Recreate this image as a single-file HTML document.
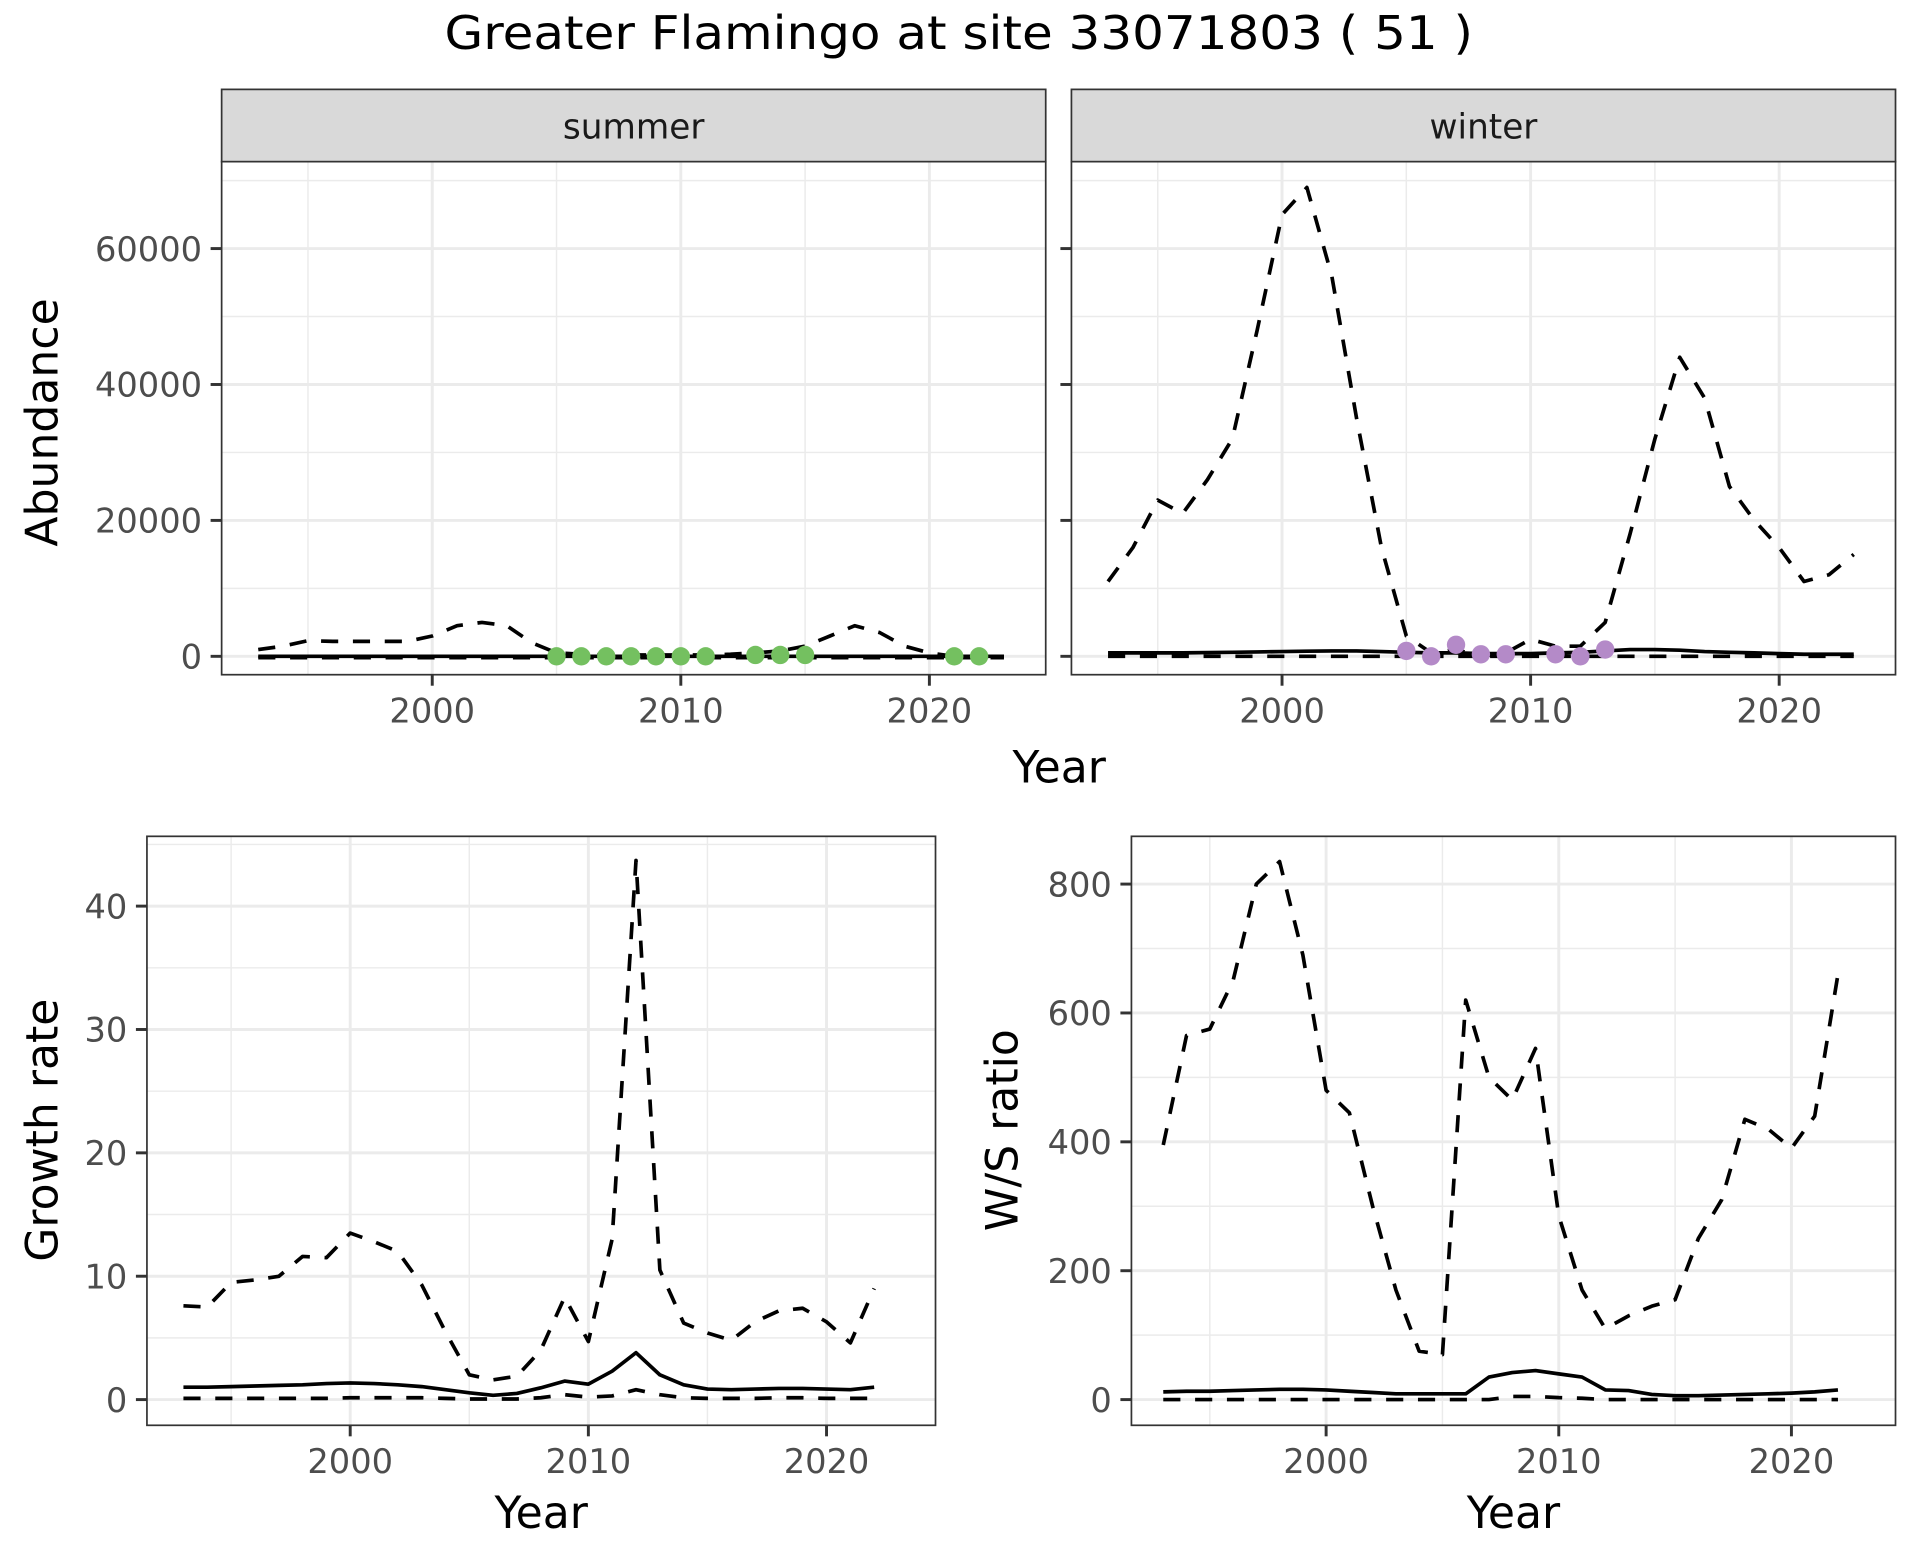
<!DOCTYPE html>
<html><head><meta charset="utf-8"><style>
html,body{margin:0;padding:0;background:#fff;}
svg{display:block;font-family:"DejaVu Sans","Liberation Sans",sans-serif;}
</style></head><body>
<svg id="chart" width="1920" height="1560" viewBox="0 0 1568 1274" preserveAspectRatio="none" xmlns="http://www.w3.org/2000/svg">
<text x="783" y="40" font-size="38" text-anchor="middle" textLength="840" lengthAdjust="spacingAndGlyphs" fill="#000">Greater Flamingo at site 33071803 ( 51 )</text>
</svg>
<script>
// ---- data ----
const sumYears = [1993,1994,1995,1996,1997,1998,1999,2000,2001,2002,2003,2004,2005,2006,2007,2008,2009,2010,2011,2012,2013,2014,2015,2016,2017,2018,2019,2020,2021,2022,2023];
const sumUpper = [1000,1500,2300,2200,2200,2200,2200,3000,4500,5000,4500,2000,500,300,200,200,200,200,200,300,500,800,1500,3000,4500,3500,1500,500,0,0,0];
const sumMean  = [0,0,0,0,0,0,0,0,0,0,0,0,0,0,0,0,0,0,0,0,0,0,0,0,0,0,0,0,0,0,0];
const sumLower = [-200,-200,-200,-200,-200,-200,-200,-200,-200,-200,-200,-200,-200,-200,-200,-200,-200,-200,-200,-200,-200,-200,-200,-200,-200,-200,-200,-200,-200,-200,-200];
const sumObsYears = [2005,2006,2007,2008,2009,2010,2011,2013,2014,2015,2021,2022];
const sumObs      = [0,0,0,0,0,0,0,200,200,200,0,0];

const winYears = sumYears;
const winUpper = [11000,16000,23000,21000,26000,32000,48000,65000,69000,56000,35000,16000,3000,500,1000,0,500,2500,1500,1500,5000,18000,32000,44000,38000,25000,20000,16000,11000,12000,15000];
const winMean  = [500,500,500,500,550,600,650,700,750,800,800,700,600,500,500,400,400,400,500,600,800,1000,1000,900,700,600,500,400,300,300,300];
const winLower = [0,0,0,0,0,0,0,0,0,0,0,0,0,0,0,0,0,0,0,0,0,0,0,0,0,0,0,0,0,0,0];
const winObsYears = [2005,2006,2007,2008,2009,2011,2012,2013];
const winObs      = [800,0,1700,300,300,300,0,1000];

const grYears = [1993,1994,1995,1996,1997,1998,1999,2000,2001,2002,2003,2004,2005,2006,2007,2008,2009,2010,2011,2012,2013,2014,2015,2016,2017,2018,2019,2020,2021,2022];
const grUpper = [7.6,7.5,9.5,9.7,10,11.6,11.5,13.5,12.8,12,9.3,5.5,2,1.6,1.9,4,8.3,4.7,13,43.7,10.5,6.2,5.4,4.8,6.3,7.2,7.4,6.3,4.6,9];
const grMean  = [1,1,1.05,1.1,1.15,1.2,1.3,1.35,1.3,1.2,1.05,0.8,0.55,0.35,0.5,0.95,1.5,1.25,2.3,3.8,2.0,1.2,0.85,0.8,0.85,0.9,0.9,0.85,0.8,1];
const grLower = [0.1,0.1,0.1,0.1,0.1,0.1,0.1,0.15,0.15,0.15,0.15,0.1,0.05,0.05,0.05,0.15,0.4,0.2,0.3,0.8,0.4,0.15,0.1,0.1,0.1,0.15,0.15,0.1,0.1,0.1];

const wsYears = grYears;
const wsUpper = [395,565,575,650,800,835,690,480,445,300,170,75,70,620,500,465,545,285,170,110,130,145,155,250,310,435,420,390,440,660];
const wsMean  = [12,13,13,14,15,16,16,15,13,11,9,9,9,9,35,42,45,40,35,15,14,8,6,6,7,8,9,10,12,15];
const wsLower = [0,0,0,0,0,0,0,0,0,0,0,0,0,0,0,5,5,3,2,0,0,0,0,0,0,0,0,0,0,0];

const abTicks = [0,20000,40000,60000];
const abMinor = [10000,30000,50000,70000];
const yearTicks = [2000,2010,2020];
const yearMinor = [1995,2005,2015];
const grTicks = [0,10,20,30,40];
const grMinor = [5,15,25,35,45];
const wsTicks = [0,200,400,600,800];
const wsMinor = [100,300,500,700];

// ---- drawing ----
const svg = document.getElementById('chart');
const NS = 'http://www.w3.org/2000/svg';
function mk(tag, attrs, parent){
  const e = document.createElementNS(NS, tag);
  for (const k in attrs) e.setAttribute(k, attrs[k]);
  (parent||svg).appendChild(e);
  return e;
}
function lin(d0,d1,r0,r1){ return v => r0 + (v-d0)*(r1-r0)/(d1-d0); }

function panel(p){
  const g = mk('g', {});
  
  
  const x = p.x, y = p.y;
  p.yMinor.forEach(v=>{ const yy=y(v); if(yy>p.t && yy<p.b){ const l=mk('line',{x1:p.l,x2:p.r,y1:yy,y2:yy,stroke:'#EBEBEB','stroke-width':1.2},g);  }});
  p.xMinor.forEach(v=>{ const xx=x(v); const l=mk('line',{x1:xx,x2:xx,y1:p.t,y2:p.b,stroke:'#EBEBEB','stroke-width':1.2},g);  });
  p.yTicks.forEach(v=>{ const yy=y(v); const l=mk('line',{x1:p.l,x2:p.r,y1:yy,y2:yy,stroke:'#EBEBEB','stroke-width':2.4},g);  });
  yearTicks.forEach(v=>{ const xx=x(v); const l=mk('line',{x1:xx,x2:xx,y1:p.t,y2:p.b,stroke:'#EBEBEB','stroke-width':2.4},g);  });
  function line(xs, ys, dashed, nm){
    const d = xs.map((v,i)=>(i?'L':'M')+x(v).toFixed(1)+','+y(ys[i]).toFixed(1)).join(' ');
    const pth = mk('path',{d:d,fill:'none',stroke:'#000','stroke-width':3,'stroke-dasharray':dashed?'14 12':'none','stroke-linejoin':'round'},g);
    
    
  }
  line(p.xs, p.upper, true, 'upper-bound-line');
  line(p.xs, p.lower, true, 'lower-bound-line');
  line(p.xs, p.mean, false, 'trend-line');
  if (p.obsX){
    p.obsX.forEach((v,i)=>{
      const c = mk('circle',{cx:x(v),cy:y(p.obs[i]),r:7.5,fill:p.color},g);
      
      
    });
  }
  const br = mk('rect',{x:p.l,y:p.t,width:p.r-p.l,height:p.b-p.t,fill:'none',stroke:'#333','stroke-width':1.4},g);
  
  
  yearTicks.forEach(v=>{ const xx=x(v);
    const tk=mk('line',{x1:xx,x2:xx,y1:p.b,y2:p.b+9,stroke:'#333','stroke-width':2.4},g);
     
    const t=mk('text',{x:xx,y:p.b+39,'font-size':27.5,'text-anchor':'middle',fill:'#4D4D4D'},g); t.textContent=v;
     
  });
  p.yTicks.forEach(v=>{ const yy=y(v);
    const tk=mk('line',{x1:p.l-9,x2:p.l,y1:yy,y2:yy,stroke:'#333','stroke-width':2.4},g);
     
    if (p.yLabels){
      const t=mk('text',{x:p.l-16,y:yy+10,'font-size':27.5,'text-anchor':'end',fill:'#4D4D4D'},g); t.textContent=v;
       
    }
  });
  if (p.strip){
    const s = mk('rect',{x:p.l,y:p.t-59,width:p.r-p.l,height:59,fill:'#D9D9D9',stroke:'#333','stroke-width':1.4},g);
     
    const st = mk('text',{x:(p.l+p.r)/2,y:p.t-19,'font-size':28,'text-anchor':'middle',fill:'#1A1A1A'},g);
    st.textContent = p.strip;
     
  }
}

const abY = lin(0,60000,536,203);
panel({name:'summer-panel',strip:'summer',l:181,r:854,t:132,b:551,x:lin(2000,2020,353,759),y:abY,yTicks:abTicks,yMinor:abMinor,xMinor:yearMinor,yLabels:true,
  xs:sumYears,upper:sumUpper,mean:sumMean,lower:sumLower,obsX:sumObsYears,obs:sumObs,color:'#74C060'});
panel({name:'winter-panel',strip:'winter',l:875,r:1548,t:132,b:551,x:lin(2000,2020,1047,1453),y:abY,yTicks:abTicks,yMinor:abMinor,xMinor:yearMinor,yLabels:false,
  xs:winYears,upper:winUpper,mean:winMean,lower:winLower,obsX:winObsYears,obs:winObs,color:'#B48AC8'});
panel({name:'growth-rate-panel',l:120,r:764,t:683,b:1164,x:lin(2000,2020,286,675),y:lin(0,40,1143,740),yTicks:grTicks,yMinor:grMinor,xMinor:yearMinor,yLabels:true,
  xs:grYears,upper:grUpper,mean:grMean,lower:grLower});
panel({name:'ws-ratio-panel',l:924,r:1548,t:683,b:1164,x:lin(2000,2020,1083,1463),y:lin(0,800,1143,722),yTicks:wsTicks,yMinor:wsMinor,xMinor:yearMinor,yLabels:true,
  xs:wsYears,upper:wsUpper,mean:wsMean,lower:wsLower});

function title(txt,x,y,rot,nm){
  const t = mk('text',{x:x,y:y,'font-size':36,'text-anchor':'middle',fill:'#000',transform:rot?('rotate(-90 '+x+' '+y+')'):''});
  t.textContent = txt;
  
  
}
title('Year',865,639,false,'top-x-axis-title');
title('Abundance',47,345,true,'abundance-y-axis-title');
title('Year',442,1248,false,'growth-x-axis-title');
title('Growth rate',47,923,true,'growth-y-axis-title');
title('Year',1236,1248,false,'ws-x-axis-title');
title('W/S ratio',831,923,true,'ws-y-axis-title');
</script>
</body></html>
